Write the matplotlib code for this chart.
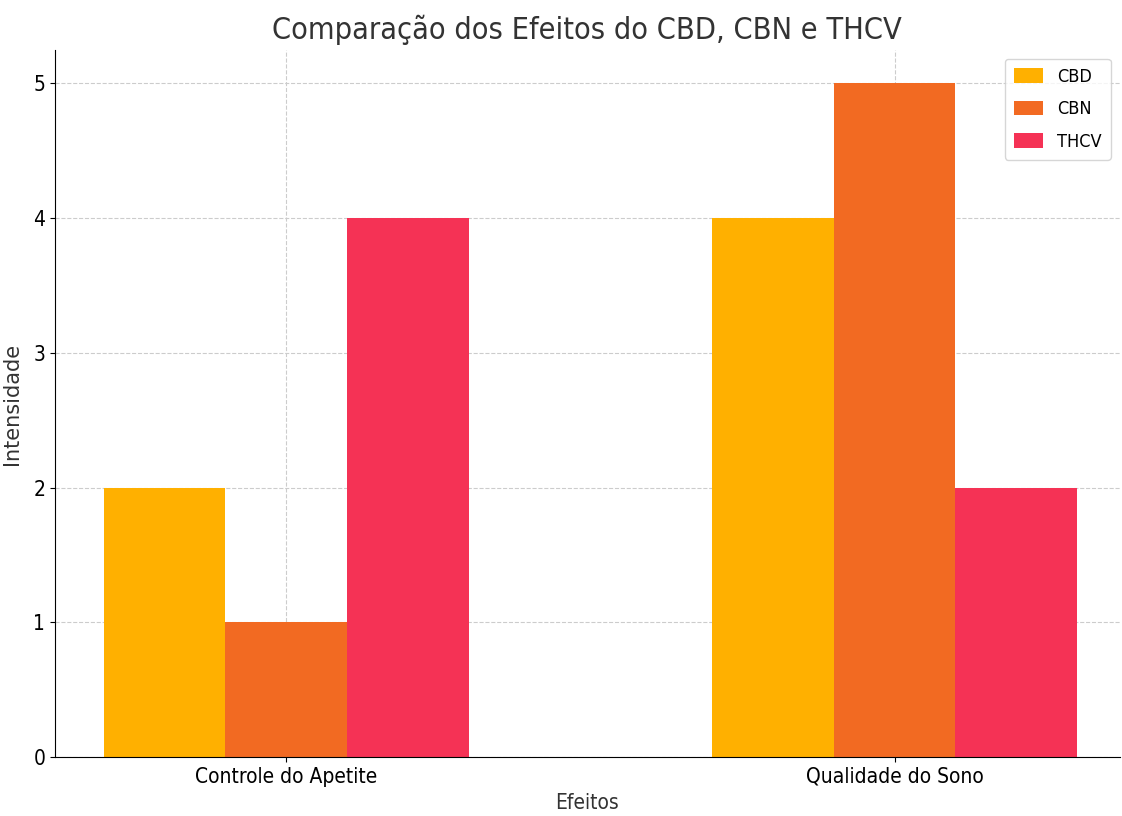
import numpy as np
import matplotlib
matplotlib.use("Agg")
import matplotlib.pyplot as plt
from matplotlib import font_manager

# ── Data ─────────────────────────────────────────────────────────────────────
efeitos = ["Controle do Apetite", "Qualidade do Sono"]
cbd = [2, 4]
cbn = [1, 5]
thcv = [4, 2]

series = [("CBD", cbd, "#FFB000"), ("CBN", cbn, "#F26A22"), ("THCV", thcv, "#F53255")]

names = {f.name for f in font_manager.fontManager.ttflist}
family = "Liberation Sans Narrow" if "Liberation Sans Narrow" in names else "DejaVu Sans"
plt.rcParams["font.family"] = family
plt.rcParams["font.stretch"] = "condensed"

fig = plt.figure(figsize=(11.22, 8.16), dpi=100)
ax = fig.add_axes([0.049, 0.072, 0.949, 0.867])

x = np.arange(len(efeitos))
width = 0.2
for i, (name, vals, color) in enumerate(series):
    ax.bar(x + (i - 1) * width, vals, width, label=name, color=color, zorder=2)

ax.set_xticks(x)
ax.set_xticklabels(efeitos, fontsize=15)
ax.tick_params(axis="y", labelsize=15)
ax.set_yticks(range(0, 6))
ax.set_ylim(0, 5.25)
ax.set_xlim(-0.38, 1.37)

ax.set_title("Comparação dos Efeitos do CBD, CBN e THCV", fontsize=22, color="#333333", pad=8)
ax.set_xlabel("Efeitos", fontsize=15, color="#333333")
ax.set_ylabel("Intensidade", fontsize=15, color="#333333",
              family="DejaVu Sans", fontstretch="normal", labelpad=8)

ax.grid(True, linestyle="--", color="#cccccc", linewidth=0.8, zorder=0)
ax.set_axisbelow(True)
for s in ["top", "right"]:
    ax.spines[s].set_visible(False)

leg = ax.legend(loc="upper right", fontsize=13, frameon=True, handlelength=1.6,
                handleheight=0.85, labelspacing=0.8, handletextpad=0.8,
                borderaxespad=0.5, borderpad=0.5)
leg.get_frame().set_edgecolor("#cccccc")

fig.savefig("out.png", dpi=100)
